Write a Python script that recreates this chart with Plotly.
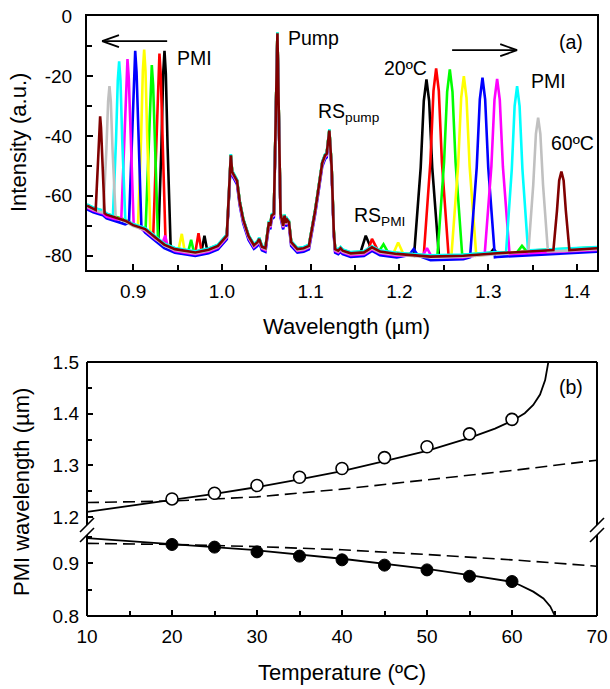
import plotly.graph_objects as go

W, H = 610, 689
FONT = "Liberation Sans, Arial, sans-serif"

# ---------------- Panel (a) data ----------------
temps = [20, 25, 30, 35, 40, 45, 50, 55, 60]
colors = ["#000000", "#ff0000", "#00ff00", "#ffff00", "#0000ff",
          "#ff00ff", "#00ffff", "#c0c0c0", "#800000"]

# common noise floor / pump / Raman features (wavelength um, intensity)
base_wl = [0.848, 0.855, 0.862, 0.866, 0.870, 0.880, 0.891, 0.900, 0.9135, 0.925,
           0.935, 0.947, 0.960, 0.970, 0.985, 0.9955, 1.0055, 1.008, 1.010, 1.0115,
           1.014, 1.017, 1.020, 1.024, 1.030, 1.036, 1.040, 1.042, 1.045, 1.049,
           1.0515, 1.053, 1.0545, 1.056, 1.0585, 1.0605, 1.0625, 1.0645, 1.066,
           1.069, 1.0705, 1.072, 1.0735, 1.0755, 1.078, 1.085, 1.092, 1.098, 1.101,
           1.105, 1.1087, 1.113, 1.1162, 1.118, 1.121, 1.1235, 1.126, 1.1275, 1.131,
           1.1336, 1.136, 1.145, 1.160, 1.169, 1.178, 1.197, 1.235, 1.272, 1.310,
           1.3475, 1.385, 1.4225]
base_db = [-63.3, -64.3, -65.0, -65.3, -66.3, -67.2, -68.3, -69.8, -71.1, -73.9,
           -76.3, -77.8, -78.5, -78.9, -78.0, -76.7, -73.3, -60.0, -46.5, -52.0,
           -53.5, -55.0, -62.0, -68.0, -73.5, -76.5, -75.5, -74.4, -77.0, -77.5,
           -72.0, -68.8, -70.0, -66.6, -66.0, -40.0, -5.8, -40.0, -66.0,
           -70.0, -66.6, -69.0, -68.0, -68.8, -75.5, -77.8, -77.5, -76.7, -72.2,
           -65.0, -57.7, -49.0, -46.5, -46.0, -38.2, -50.0, -72.0, -77.8, -78.3,
           -77.5, -78.3, -79.2, -78.9, -77.2, -78.6, -79.4, -80.3, -80.0, -79.2,
           -78.6, -78.1, -77.5]
base_shift = [0.0, 0.0, 0.3, 0.0, -1.2, -0.6, 0.4, -0.3, 0.0]

# anti-Stokes PMI peak of each temperature
as_wl = [
    [0.9283, 0.9318, 0.9338, 0.9353, 0.9368, 0.9388, 0.9423],
    [0.9226, 0.9261, 0.9281, 0.9296, 0.9311, 0.9331, 0.9366],
    [0.9140, 0.9175, 0.9195, 0.9210, 0.9225, 0.9245, 0.9280],
    [0.9054, 0.9089, 0.9109, 0.9124, 0.9139, 0.9159, 0.9194],
    [0.8953, 0.8988, 0.9008, 0.9023, 0.9038, 0.9058, 0.9093],
    [0.8866, 0.8901, 0.8921, 0.8936, 0.8951, 0.8971, 0.9006],
    [0.8772, 0.8807, 0.8827, 0.8842, 0.8857, 0.8877, 0.8912],
    [0.8663, 0.8698, 0.8718, 0.8733, 0.8748, 0.8768, 0.8803],
    [0.8578, 0.8603, 0.8618, 0.8628, 0.8638, 0.8653, 0.8678],
]
as_db = [
    [-75.0, -43.8, -19.3, -11.6, -19.3, -43.8, -77.5],
    [-73.5, -43.5, -19.9, -12.5, -19.9, -43.5, -76.5],
    [-71.2, -44.5, -23.1, -16.4, -23.1, -44.5, -74.5],
    [-70.4, -41.1, -18.4, -11.2, -18.4, -41.1, -72.0],
    [-69.0, -40.8, -18.6, -11.6, -18.6, -40.8, -70.7],
    [-67.9, -41.6, -20.9, -14.4, -20.9, -41.6, -69.8],
    [-66.8, -41.4, -21.4, -15.1, -21.4, -41.4, -68.5],
    [-65.6, -44.9, -28.5, -23.4, -28.5, -44.9, -67.2],
    [-64.7, -49.3, -37.3, -33.5, -37.3, -49.3, -65.8],
]

# Stokes PMI peak of each temperature
st_wl = [
    [1.2164, 1.2239, 1.2274, 1.2304, 1.2334, 1.2369, 1.2444],
    [1.2273, 1.2348, 1.2383, 1.2413, 1.2443, 1.2478, 1.2553],
    [1.2427, 1.2502, 1.2537, 1.2567, 1.2597, 1.2632, 1.2707],
    [1.2585, 1.2660, 1.2695, 1.2725, 1.2755, 1.2790, 1.2865],
    [1.2795, 1.2870, 1.2905, 1.2935, 1.2965, 1.3000, 1.3075],
    [1.2960, 1.3035, 1.3070, 1.3100, 1.3130, 1.3165, 1.3240],
    [1.3200, 1.3265, 1.3297, 1.3325, 1.3353, 1.3385, 1.3450],
    [1.3452, 1.3507, 1.3537, 1.3562, 1.3587, 1.3617, 1.3672],
    [1.3734, 1.3774, 1.3799, 1.3824, 1.3849, 1.3874, 1.3914],
]
st_db = [
    [-80.0, -50.6, -28.3, -21.2, -28.3, -50.6, -80.0],
    [-80.0, -48.8, -25.0, -17.5, -25.0, -48.8, -80.0],
    [-80.0, -48.9, -25.3, -17.8, -25.3, -48.9, -80.0],
    [-80.0, -50.1, -27.3, -20.1, -27.3, -50.1, -80.0],
    [-80.5, -50.6, -27.8, -20.6, -27.8, -50.6, -80.5],
    [-79.5, -50.3, -28.0, -21.0, -28.0, -50.3, -79.5],
    [-79.0, -51.2, -30.1, -23.4, -30.1, -51.2, -79.0],
    [-78.6, -56.3, -39.3, -33.9, -39.3, -56.3, -78.6],
    [-78.1, -65.0, -54.9, -51.9, -54.9, -65.0, -78.1],
]

# small satellite bumps (anti-Stokes side and RS of the PMI)
sat_wl = [
    [[0.977, 0.9803, 0.9835], [1.156, 1.162, 1.168], [1.302, 1.306, 1.310]],
    [[0.970, 0.9736, 0.977], [1.164, 1.169, 1.175]],
    [[0.962, 0.9653, 0.9685], [1.177, 1.182, 1.187], [1.332, 1.338, 1.344]],
    [[0.951, 0.9548, 0.958], [1.193, 1.1985, 1.204]],
    [[1.211, 1.216, 1.221]],
    [[0.933, 0.936, 0.939], [1.226, 1.231, 1.236]],
    [],
    [],
    [],
]
sat_db = [
    [[-78.5, -73.3, -78.3], [-79.0, -73.3, -77.5], [-79.3, -77.8, -79.2]],
    [[-78.9, -72.5, -78.5], [-79.0, -74.4, -77.8]],
    [[-78.6, -74.7, -78.8], [-78.5, -76.2, -78.8], [-79.0, -76.7, -78.8]],
    [[-78.1, -72.7, -78.4], [-79.3, -75.6, -79.2]],
    [[-79.8, -77.8, -80.0]],
    [[-75.8, -73.3, -77.0], [-80.0, -77.5, -80.2]],
    [],
    [],
    [],
]

# ---------------- Panel (b) data ----------------
temp_pts = [20, 25, 30, 35, 40, 45, 50, 55, 60]
stokes_pmi = [1.235, 1.246, 1.261, 1.277, 1.294, 1.315, 1.336, 1.361, 1.389]
antistokes_pmi = [0.935, 0.930, 0.921, 0.913, 0.906, 0.896, 0.887, 0.875, 0.865]

fit_up_T = [10, 15, 20, 25, 30, 35, 40, 45, 50, 55, 58, 60, 61.5, 62.5, 63.3, 63.9, 64.3, 64.6]
fit_up_L = [1.210, 1.221, 1.233, 1.245, 1.258, 1.273, 1.289, 1.308, 1.328, 1.353, 1.371,
            1.386, 1.401, 1.417, 1.437, 1.465, 1.500, 1.530]
fit_lo_T = [10, 20, 30, 40, 50, 55, 59.8, 60.9, 62.5, 63.7, 64.5, 65.06, 65.3]
fit_lo_L = [0.947, 0.936, 0.924, 0.908, 0.889, 0.877, 0.865, 0.8585, 0.846, 0.833, 0.818,
            0.800, 0.790]
dash_up_T = [10, 20, 30, 35, 40, 50, 60, 70]
dash_up_L = [1.228, 1.231, 1.239, 1.246, 1.254, 1.272, 1.290, 1.310]
dash_lo_T = [10, 20, 30, 40, 50, 60, 70]
dash_lo_L = [0.937, 0.935, 0.931, 0.925, 0.916, 0.906, 0.894]

# ---------------- helpers ----------------
def px(x):
    return x / W

def py(y):
    return 1 - y / H


def build_spectrum(i):
    segs = [(as_wl[i], as_db[i]), (st_wl[i], st_db[i])]
    segs += list(zip(sat_wl[i], sat_db[i]))
    spans = [(min(s[0]), max(s[0])) for s in segs]
    pts = []
    for w, d in zip(base_wl, base_db):
        if not any(a <= w <= b for a, b in spans):
            pts.append((w, d + base_shift[i]))
    for s in segs:
        pts += list(zip(s[0], s[1]))
    pts.sort()
    return [p[0] for p in pts], [p[1] for p in pts]


fig = go.Figure()

for i, t in enumerate(temps):
    xs, ys = build_spectrum(i)
    fig.add_trace(go.Scatter(x=xs, y=ys, mode="lines", name=f"{t}ºC",
                             line=dict(color=colors[i], width=2.6),
                             xaxis="x", yaxis="y", showlegend=False))

# panel (b)
fig.add_trace(go.Scatter(x=dash_up_T, y=dash_up_L, mode="lines",
                         line=dict(color="black", width=1.6, dash="12px,6px"),
                         xaxis="x2", yaxis="y2", showlegend=False))
fig.add_trace(go.Scatter(x=fit_up_T, y=fit_up_L, mode="lines",
                         line=dict(color="black", width=1.8),
                         xaxis="x2", yaxis="y2", showlegend=False))
fig.add_trace(go.Scatter(x=temp_pts, y=stokes_pmi, mode="markers",
                         marker=dict(symbol="circle", size=12, color="white",
                                     line=dict(color="black", width=1.6)),
                         xaxis="x2", yaxis="y2", showlegend=False))
fig.add_trace(go.Scatter(x=dash_lo_T, y=dash_lo_L, mode="lines",
                         line=dict(color="black", width=1.6, dash="12px,6px"),
                         xaxis="x2", yaxis="y3", showlegend=False))
fig.add_trace(go.Scatter(x=fit_lo_T, y=fit_lo_L, mode="lines",
                         line=dict(color="black", width=1.8),
                         xaxis="x2", yaxis="y3", showlegend=False))
fig.add_trace(go.Scatter(x=temp_pts, y=antistokes_pmi, mode="markers",
                         marker=dict(symbol="circle", size=12, color="black",
                                     line=dict(color="black", width=1)),
                         xaxis="x2", yaxis="y3", showlegend=False))

tickfont = dict(family=FONT, size=19, color="black")
common = dict(showgrid=False, zeroline=False, ticks="inside", ticklen=6, tickwidth=1.5,
              tickcolor="black", tickfont=tickfont, automargin=False)
minor_common = dict(ticks="inside", ticklen=5, tickwidth=1.5, tickcolor="black")

# panel geometry (pixels)
L, R = 87, 597
A_T, A_B = 16, 269.5
B_T, B_B, B_BRK = 362, 616, 530

fig.update_layout(
    template="none",
    width=W, height=H, margin=dict(l=0, r=0, t=0, b=0, pad=0),
    paper_bgcolor="white", plot_bgcolor="white",
    font=dict(family=FONT, color="black"),
    xaxis=dict(domain=[px(L), px(R)], anchor="y", range=[0.848, 1.4225],
               tickvals=[0.9, 1.0, 1.1, 1.2, 1.3, 1.4],
               ticktext=["0.9", "1.0", "1.1", "1.2", "1.3", "1.4"],
               minor=dict(tickvals=[0.95, 1.05, 1.15, 1.25, 1.35], **minor_common),
               ticklabelstandoff=4,
               showline=True, linewidth=2, linecolor="black", mirror=True, **common),
    yaxis=dict(domain=[py(A_B), py(A_T)], anchor="x", range=[-84.6, 0],
               tickvals=[0, -20, -40, -60, -80],
               ticktext=["0", "-20", "-40", "-60", "-80"],
               minor=dict(tickvals=[-10, -30, -50, -70], **minor_common),
               ticklabelstandoff=9,
               showline=True, linewidth=2, linecolor="black", mirror=True, **common),
    xaxis2=dict(domain=[px(L), px(R)], anchor="y3", range=[10, 70],
                tickvals=[10, 20, 30, 40, 50, 60, 70],
                minor=dict(tickvals=[15, 25, 35, 45, 55, 65], **minor_common),
                ticklabelstandoff=7,
                showline=False, **common),
    yaxis2=dict(domain=[py(B_BRK), py(B_T)], anchor="x2", range=[1.1749, 1.5],
                tickvals=[1.2, 1.3, 1.4, 1.5], ticktext=["1.2", "1.3", "1.4", "1.5"],
                minor=dict(tickvals=[1.25, 1.35, 1.45], **minor_common),
                ticklabelstandoff=7,
                showline=False, **common),
    yaxis3=dict(domain=[py(B_B), py(B_BRK)], anchor="x2", range=[0.8, 0.9623],
                tickvals=[0.8, 0.9], ticktext=["0.8", "0.9"],
                minor=dict(tickvals=[0.85, 0.95], **minor_common),
                ticklabelstandoff=7,
                showline=False, **common),
)

shapes = []
lw = 2
def pline(x0, y0, x1, y1, color="black", width=lw):
    shapes.append(dict(type="line", xref="paper", yref="paper",
                       x0=px(x0), y0=py(y0), x1=px(x1), y1=py(y1),
                       line=dict(color=color, width=width)))

# frame of panel (b) with axis breaks
pline(L, B_T, R, B_T)
pline(L, B_B, R, B_B)
for xe in (L, R):
    pline(xe, B_T, xe, 525)
    pline(xe, 535, xe, B_B)
    pline(xe - 7, 532, xe + 7, 518, width=1.6)
    pline(xe - 7, 542, xe + 7, 528, width=1.6)

# arrows in panel (a) (data coordinates)
def dline(x0, y0, x1, y1):
    shapes.append(dict(type="line", xref="x", yref="y", x0=x0, y0=y0, x1=x1, y1=y1,
                       line=dict(color="black", width=1.8)))

dline(0.9383, -8.4, 0.865, -8.4)
dline(0.865, -8.4, 0.884, -6.4)
dline(0.865, -8.4, 0.884, -10.4)
dline(1.2593, -11.4, 1.3325, -11.4)
dline(1.3325, -11.4, 1.3135, -9.4)
dline(1.3325, -11.4, 1.3135, -13.4)

fig.update_layout(shapes=shapes)

def label(text, x, y, xanchor="left", angle=0, size=19.5):
    fig.add_annotation(text=text, x=px(x), y=py(y), xref="paper", yref="paper",
                       xanchor=xanchor, yanchor="middle", showarrow=False,
                       textangle=angle, font=dict(family=FONT, size=size, color="black"))

label("PMI", 175, 58)
label("Pump", 286, 38)
label("RS<sub>pump</sub>", 316, 113)
label("20ºC", 382, 68)
label("(a)", 557, 42)
label("PMI", 529, 81)
label("60ºC", 549, 143)
label("RS<sub>PMI</sub>", 352, 216)
label("(b)", 557, 387)

label("Intensity (a.u.)", 19, 143, xanchor="center", angle=-90, size=22)
label("Wavelength (\u00b5m)", 346, 326, xanchor="center", size=22)
label("PMI wavelength (\u00b5m)", 21, 492, xanchor="center", angle=-90, size=22)
label("Temperature (ºC)", 342, 672, xanchor="center", size=22)

fig.write_html("out.html", config={"displayModeBar": False})

# remove the default page margin so the figure sits at the window's top-left corner
with open("out.html", "r", encoding="utf-8") as f:
    html = f.read()
html = html.replace("<head>", "<head><style>html,body{margin:0;padding:0;overflow:hidden;}</style>", 1)
with open("out.html", "w", encoding="utf-8") as f:
    f.write(html)
